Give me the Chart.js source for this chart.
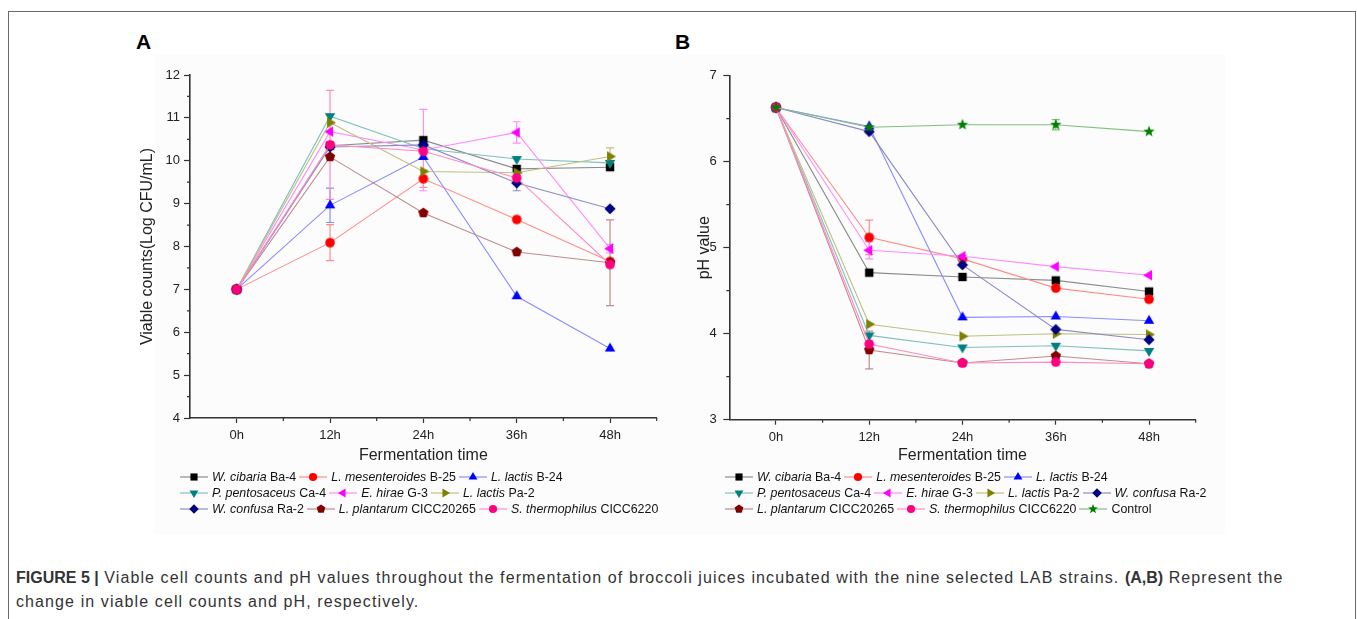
<!DOCTYPE html>
<html>
<head>
<meta charset="utf-8">
<script src="https://cdn.jsdelivr.net/npm/chart.js@4.4.0/dist/chart.umd.min.js"></script>
<style>
  body { margin: 0; background: #fff; font-family: "Liberation Sans", Arial, sans-serif; }
  #frame { position: absolute; left: 8px; top: 11px; width: 1346px; height: 700px; border: 1px solid #6a6a6a; }
  #imgbg { position: absolute; left: 154px; top: 55px; width: 1071px; height: 480px; background: #fcfcfc; }
  canvas.panel { position: absolute; top: 60px; }
  #cA { left: 120px; }
  #cB { left: 660px; }
  .letter { position: absolute; font-weight: bold; font-size: 21px; color: #000; }
  .legend { position: absolute; top: 469px; font-size: 12.4px; color: #111; }
  .legend .row { display: flex; align-items: center; height: 16px; white-space: nowrap; }
  .legend .item { display: flex; align-items: center; margin-right: 3px; }
  .legend canvas { margin-right: 4px; }
  #caption { position: absolute; left: 16px; top: 566px; font-size: 16px; line-height: 24px; color: #333;
             white-space: nowrap; letter-spacing: 1.1px; }
  #caption b { letter-spacing: 0; }
</style>
</head>
<body>
<div id="frame"></div>
<div id="imgbg"></div>
<div class="letter" style="left:136px; top:30px;">A</div>
<div class="letter" style="left:675px; top:30px;">B</div>
<canvas id="cA" class="panel" width="560" height="410"></canvas>
<canvas id="cB" class="panel" width="560" height="410"></canvas>
<div id="legA" class="legend" style="left:180px;"></div>
<div id="legB" class="legend" style="left:725px;"></div>
<div id="caption"><b>FIGURE 5 |</b> Viable cell counts and pH values throughout the fermentation of broccoli juices incubated with the nine selected LAB strains. <b>(A,B)</b> Represent the<br>change in viable cell counts and pH, respectively.</div>

<script>
// fermentation time points
const timeLabels = ['0h', '12h', '24h', '36h', '48h'];

// strains: italic species + strain code
const species = ['W. cibaria', 'L. mesenteroides', 'L. lactis', 'P. pentosaceus', 'E. hirae',
                 'L. lactis', 'W. confusa', 'L. plantarum', 'S. thermophilus', 'Control'];
const codes = ['Ba-4', 'B-25', 'B-24', 'Ca-4', 'G-3', 'Pa-2', 'Ra-2', 'CICC20265', 'CICC6220', ''];

// A: viable counts (Log CFU/mL)
const cntBa4    = [7, 10.35, 10.48, 9.81, 9.85];
const cntB25    = [7, 8.09, 9.58, 8.63, 7.65];
const cntB24    = [7, 8.96, 10.09, 6.84, 5.62];
const cntCa4    = [7, 11.04, 10.28, 10.04, 9.95];
const cntG3     = [7, 10.68, 10.25, 10.66, 7.95];
const cntPa2    = [7, 10.89, 9.75, 9.72, 10.1];
const cntRa2    = [7, 10.32, 10.37, 9.48, 8.88];
const cntC20265 = [7, 10.09, 8.78, 7.87, 7.62];
const cntC6220  = [7, 10.37, 10.22, 9.6, 7.58];

// A: standard deviations (null = bar hidden under the marker)
const errB25    = [null, 0.42, 0.2, null, null];
const errB24    = [null, 0.4, null, null, null];
const errG3     = [null, null, 0.95, 0.25, 0.1];
const errPa2    = [null, null, null, null, 0.2];
const errRa2    = [null, null, null, 0.18, null];
const errC20265 = [null, null, null, null, 1.0];
const errC6220  = [null, 1.27, null, null, null];

// B: pH value
const phBa4     = [6.63, 4.71, 4.66, 4.62, 4.49];
const phB25     = [6.63, 5.12, 4.87, 4.53, 4.4];
const phB24     = [6.63, 6.41, 4.19, 4.2, 4.15];
const phCa4     = [6.63, 3.98, 3.84, 3.86, 3.8];
const phG3      = [6.63, 4.97, 4.9, 4.78, 4.68];
const phPa2     = [6.63, 4.11, 3.97, 4.0, 3.99];
const phRa2     = [6.63, 6.35, 4.8, 4.05, 3.93];
const phC20265  = [6.63, 3.81, 3.66, 3.74, 3.65];
const phC6220   = [6.63, 3.88, 3.66, 3.67, 3.65];
const phControl = [6.63, 6.4, 6.43, 6.43, 6.35];

const phErrB25     = [null, 0.2, null, null, null];
const phErrG3      = [null, 0.1, null, null, null];
const phErrC20265  = [null, 0.22, null, null, null];
const phErrControl = [null, null, null, 0.06, null];

// styles
const markColors = ['#000000', '#ff0000', '#0000ff', '#008080', '#ff00ff', '#808000', '#000080', '#800000', '#ff0080', '#008000'];
const lineColors = ['#8c8c8c', '#ff8c8c', '#8c8cff', '#80c0c0', '#ff8cff', '#c0c080', '#8c8cc4', '#c08c8c', '#ff8cc4', '#80c080'];
const shapes = ['square', 'circle', 'triUp', 'triDown', 'triLeft', 'triRight', 'diamond', 'pentagon', 'circle', 'star'];

function drawShape(g, shape, x, y, k, color) {
  g.fillStyle = color;
  g.beginPath();
  const poly = (n, r, a0) => {
    for (let i = 0; i < n; i++) {
      const a = a0 + i * 2 * Math.PI / n;
      i ? g.lineTo(x + r * Math.cos(a), y + r * Math.sin(a)) : g.moveTo(x + r * Math.cos(a), y + r * Math.sin(a));
    }
    g.closePath();
  };
  if (shape === 'square') g.rect(x - 4.2 * k, y - 4.2 * k, 8.4 * k, 8.4 * k);
  else if (shape === 'circle') g.arc(x, y, 4.8 * k, 0, Math.PI * 2);
  else if (shape === 'triUp') poly(3, 6 * k, -Math.PI / 2);
  else if (shape === 'triDown') poly(3, 6 * k, Math.PI / 2);
  else if (shape === 'triLeft') poly(3, 6 * k, Math.PI);
  else if (shape === 'triRight') poly(3, 6 * k, 0);
  else if (shape === 'diamond') poly(4, 5.6 * k, -Math.PI / 2);
  else if (shape === 'pentagon') poly(5, 5.4 * k, -Math.PI / 2);
  else if (shape === 'star') {
    for (let i = 0; i < 10; i++) {
      const r = (i % 2 ? 2.5 : 6) * k, a = -Math.PI / 2 + i * Math.PI / 5;
      i ? g.lineTo(x + r * Math.cos(a), y + r * Math.sin(a)) : g.moveTo(x + r * Math.cos(a), y + r * Math.sin(a));
    }
    g.closePath();
  }
  g.fill();
}

function markerImg(i) {
  const c = document.createElement('canvas');
  c.width = c.height = 14;
  drawShape(c.getContext('2d'), shapes[i], 7, 7, 1, markColors[i]);
  return c;
}

function makeSet(i, values, errs) {
  return {
    label: species[i] + ' ' + codes[i],
    data: values.map((v, k) => ({ x: k, y: v })),
    err: errs || [],
    borderColor: lineColors[i],
    borderWidth: 1.1,
    pointStyle: markerImg(i),
    pointRadius: 5,
    tension: 0,
    order: 10 - i
  };
}

// minor ticks and error bars
const extras = {
  id: 'extras',
  beforeDatasetsDraw(chart) {
    const g = chart.ctx, xs = chart.scales.x, ys = chart.scales.y;
    g.save();
    g.strokeStyle = '#333';
    g.lineWidth = 1.2;
    g.beginPath();
    for (let v = ys.min + 0.5; v < ys.max; v += 1) {
      const py = ys.getPixelForValue(v);
      g.moveTo(xs.left, py); g.lineTo(xs.left - 3, py);
    }
    for (let v = 0.5; v < 4.6; v += 1) {
      const px = xs.getPixelForValue(v);
      g.moveTo(px, ys.bottom); g.lineTo(px, ys.bottom + 3);
    }
    g.stroke();
    chart.data.datasets.forEach(ds => {
      g.strokeStyle = ds.borderColor;
      g.lineWidth = 1.2;
      ds.err.forEach((e, k) => {
        if (e == null) return;
        const px = xs.getPixelForValue(k);
        const y0 = ys.getPixelForValue(ds.data[k].y - e), y1 = ys.getPixelForValue(ds.data[k].y + e);
        g.beginPath();
        g.moveTo(px, y0); g.lineTo(px, y1);
        g.moveTo(px - 4, y0); g.lineTo(px + 4, y0);
        g.moveTo(px - 4, y1); g.lineTo(px + 4, y1);
        g.stroke();
      });
    });
    g.restore();
  }
};

function panelOptions(cfg) {
  return {
    responsive: false,
    animation: false,
    layout: { padding: { top: cfg.top, right: cfg.right, left: 0, bottom: 0 } },
    plugins: { legend: { display: false }, tooltip: { enabled: false } },
    scales: {
      x: {
        type: 'linear', min: -0.5, max: 4.5,
        afterBuildTicks: s => { s.ticks = timeLabels.map((_, i) => ({ value: i })); },
        afterFit: s => { s.height = cfg.xh; },
        ticks: { callback: v => timeLabels[v], font: { size: 13 }, color: '#222', padding: 5, maxRotation: 0 },
        grid: { display: true, drawOnChartArea: false, tickLength: 5, tickColor: '#333', tickWidth: 1.2 },
        border: { color: '#333', width: 1.6 },
        title: { display: true, text: 'Fermentation time', font: { size: 16 }, color: '#222', padding: { top: 0, bottom: 5 } }
      },
      y: {
        min: cfg.ymin, max: cfg.ymax,
        afterFit: s => { s.width = cfg.yw; },
        ticks: { stepSize: 1, font: { size: 13 }, color: '#222', padding: cfg.ypad },
        grid: { display: true, drawOnChartArea: false, tickLength: 6, tickColor: '#333', tickWidth: 1.2 },
        border: { color: '#333', width: 1.6 },
        title: { display: true, text: cfg.ytitle, font: { size: 16 }, color: '#222', padding: { top: cfg.ttl, bottom: 0 } }
      }
    }
  };
}

new Chart(document.getElementById('cA'), {
  type: 'line',
  data: {
    datasets: [
      makeSet(0, cntBa4), makeSet(1, cntB25, errB25), makeSet(2, cntB24, errB24),
      makeSet(3, cntCa4), makeSet(4, cntG3, errG3), makeSet(5, cntPa2, errPa2),
      makeSet(6, cntRa2, errRa2), makeSet(7, cntC20265, errC20265), makeSet(8, cntC6220, errC6220)
    ]
  },
  options: panelOptions({ top: 15, right: 23.3, xh: 52, yw: 70, ymin: 4, ymax: 12, ypad: 4,
                          ytitle: 'Viable counts(Log CFU/mL)', ttl: 18 }),
  plugins: [extras]
});

new Chart(document.getElementById('cB'), {
  type: 'line',
  data: {
    datasets: [
      makeSet(0, phBa4), makeSet(1, phB25, phErrB25), makeSet(2, phB24),
      makeSet(3, phCa4), makeSet(4, phG3, phErrG3), makeSet(5, phPa2),
      makeSet(6, phRa2), makeSet(7, phC20265, phErrC20265), makeSet(8, phC6220),
      makeSet(9, phControl, phErrControl)
    ]
  },
  options: panelOptions({ top: 15.7, right: 24.3, xh: 50.3, yw: 69.3, ymin: 3, ymax: 7, ypad: 6.6,
                          ytitle: 'pH value', ttl: 35 }),
  plugins: [extras]
});

// legends with italic species names
function buildLegend(el, rows) {
  rows.forEach(r => {
    const row = document.createElement('div');
    row.className = 'row';
    r.forEach(i => {
      const item = document.createElement('div');
      item.className = 'item';
      const c = document.createElement('canvas');
      c.width = 28; c.height = 14;
      const g = c.getContext('2d');
      g.strokeStyle = lineColors[i]; g.lineWidth = 1.2;
      g.beginPath(); g.moveTo(0, 7); g.lineTo(28, 7); g.stroke();
      drawShape(g, shapes[i], 14, 7, 0.85, markColors[i]);
      const t = document.createElement('span');
      t.innerHTML = codes[i] ? '<i>' + species[i] + '</i> ' + codes[i] : species[i];
      item.appendChild(c); item.appendChild(t);
      row.appendChild(item);
    });
    el.appendChild(row);
  });
}
buildLegend(document.getElementById('legA'), [[0, 1, 2], [3, 4, 5], [6, 7, 8]]);
buildLegend(document.getElementById('legB'), [[0, 1, 2], [3, 4, 5, 6], [7, 8, 9]]);
</script>
</body>
</html>
